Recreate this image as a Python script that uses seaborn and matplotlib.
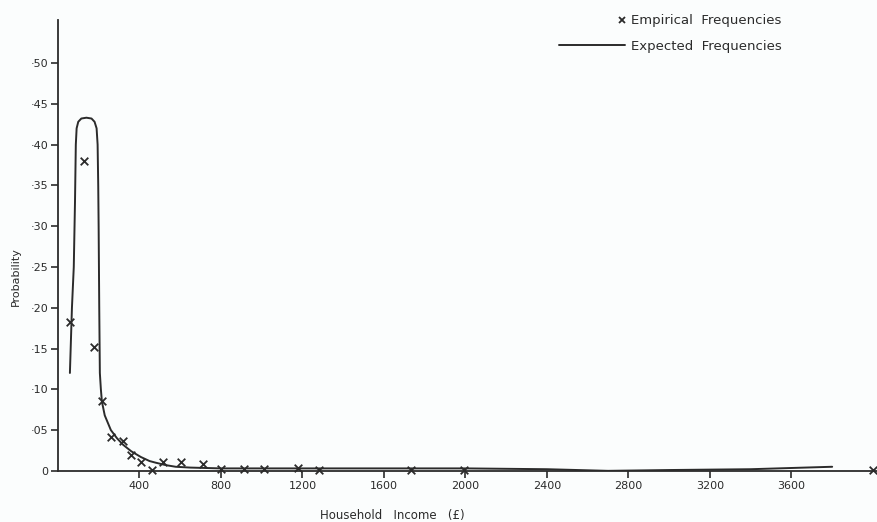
import numpy as np
import pandas as pd
import matplotlib
matplotlib.use("Agg")
import matplotlib.pyplot as plt
import seaborn as sns
from matplotlib.lines import Line2D
from matplotlib.legend_handler import HandlerLine2D

# Observed relative frequencies by household income (£)
emp_income = [60, 127, 175, 215, 260, 318, 358, 407, 460, 518, 603, 710,
              800, 913, 1010, 1180, 1280, 1735, 1995, 4000]
emp_prob = [0.183, 0.380, 0.152, 0.086, 0.042, 0.036, 0.020, 0.011, 0.001,
            0.011, 0.011, 0.009, 0.002, 0.002, 0.002, 0.004, 0.001, 0.001,
            0.001, 0.001]

# Fitted (expected) frequency curve
exp_income = [59, 69, 78, 84, 88, 92, 100, 115, 140, 165, 180, 190, 195, 198,
              200, 203, 206, 211, 216, 230, 260, 290, 320, 360, 407, 450, 480,
              530, 578, 650, 800, 1000, 1400, 2000, 2400, 2700, 3000, 3400,
              3800]
exp_prob = [0.120, 0.200, 0.250, 0.330, 0.400, 0.420, 0.428, 0.432, 0.433,
            0.432, 0.428, 0.420, 0.400, 0.350, 0.300, 0.200, 0.120, 0.100,
            0.085, 0.068, 0.050, 0.040, 0.032, 0.024, 0.017, 0.012, 0.010,
            0.007, 0.005, 0.004, 0.003, 0.003, 0.003, 0.003, 0.002, 0.000,
            0.001, 0.002, 0.005]

x_ticks = [400, 800, 1200, 1600, 2000, 2400, 2800, 3200, 3600]
y_ticks = [0, 0.05, 0.10, 0.15, 0.20, 0.25, 0.30, 0.35, 0.40, 0.45, 0.50]
y_tick_labels = ["0", "·05", "·10", "·15", "·20", "·25", "·30", "·35", "·40",
                 "·45", "·50"]

ink = "#2b2b2b"
paper = "#fbfdfd"

sns.set_style("ticks")
plt.rcParams["font.family"] = ["DejaVu Sans"]

fig = plt.figure(figsize=(8.77, 5.22), dpi=100, facecolor=paper)
ax = fig.add_axes([0.066, 0.098, 0.934, 0.864])
ax.set_facecolor(paper)

emp = pd.DataFrame({"income": emp_income, "prob": emp_prob})
expd = pd.DataFrame({"income": exp_income, "prob": exp_prob})

sns.lineplot(data=expd, x="income", y="prob", ax=ax, color=ink, lw=1.4,
             sort=False, estimator=None)
sns.scatterplot(data=emp, x="income", y="prob", ax=ax, marker="x", s=30,
                color=ink, linewidth=1.3, zorder=3, clip_on=False)

ax.set_xlim(0, 4020)
ax.set_ylim(0, 0.553)
ax.set_xticks(x_ticks)
ax.set_xticklabels([str(v) for v in x_ticks])
ax.set_yticks(y_ticks)
ax.set_yticklabels(y_tick_labels)
ax.tick_params(axis="both", direction="out", length=5, width=1.2,
               color=ink, labelcolor=ink, labelsize=8, pad=2)

sns.despine(ax=ax)
for side in ("left", "bottom"):
    ax.spines[side].set_color(ink)
    ax.spines[side].set_linewidth(1.3)

ax.set_xlabel("Household   Income   (£)", fontsize=8.5, color=ink)
ax.set_ylabel("Probability", fontsize=8, color=ink)
ax.xaxis.set_label_coords(0.408, -0.085)
ax.yaxis.set_label_coords(-0.045, 0.43)


class MarkerAtEnd(HandlerLine2D):
    """Legend handler that puts a single marker at the right end of the slot."""

    def get_xdata(self, legend, xdescent, ydescent, width, height, fontsize):
        end = -xdescent + width - 0.25 * fontsize
        return [end], [end]


h_emp = Line2D([], [], ls="none", marker="x", color=ink, ms=5, mew=1.3)
h_exp = Line2D([], [], color=ink, lw=1.4)
leg = fig.legend([h_emp, h_exp],
                 ["Empirical  Frequencies", "Expected  Frequencies"],
                 loc="upper right", bbox_to_anchor=(0.905, 0.995),
                 frameon=False, fontsize=9.5, handlelength=5.0,
                 handletextpad=0.45, labelspacing=0.95, labelcolor=ink,
                 handler_map={h_emp: MarkerAtEnd(numpoints=2)})

fig.savefig("out.png", dpi=100, facecolor=paper)
